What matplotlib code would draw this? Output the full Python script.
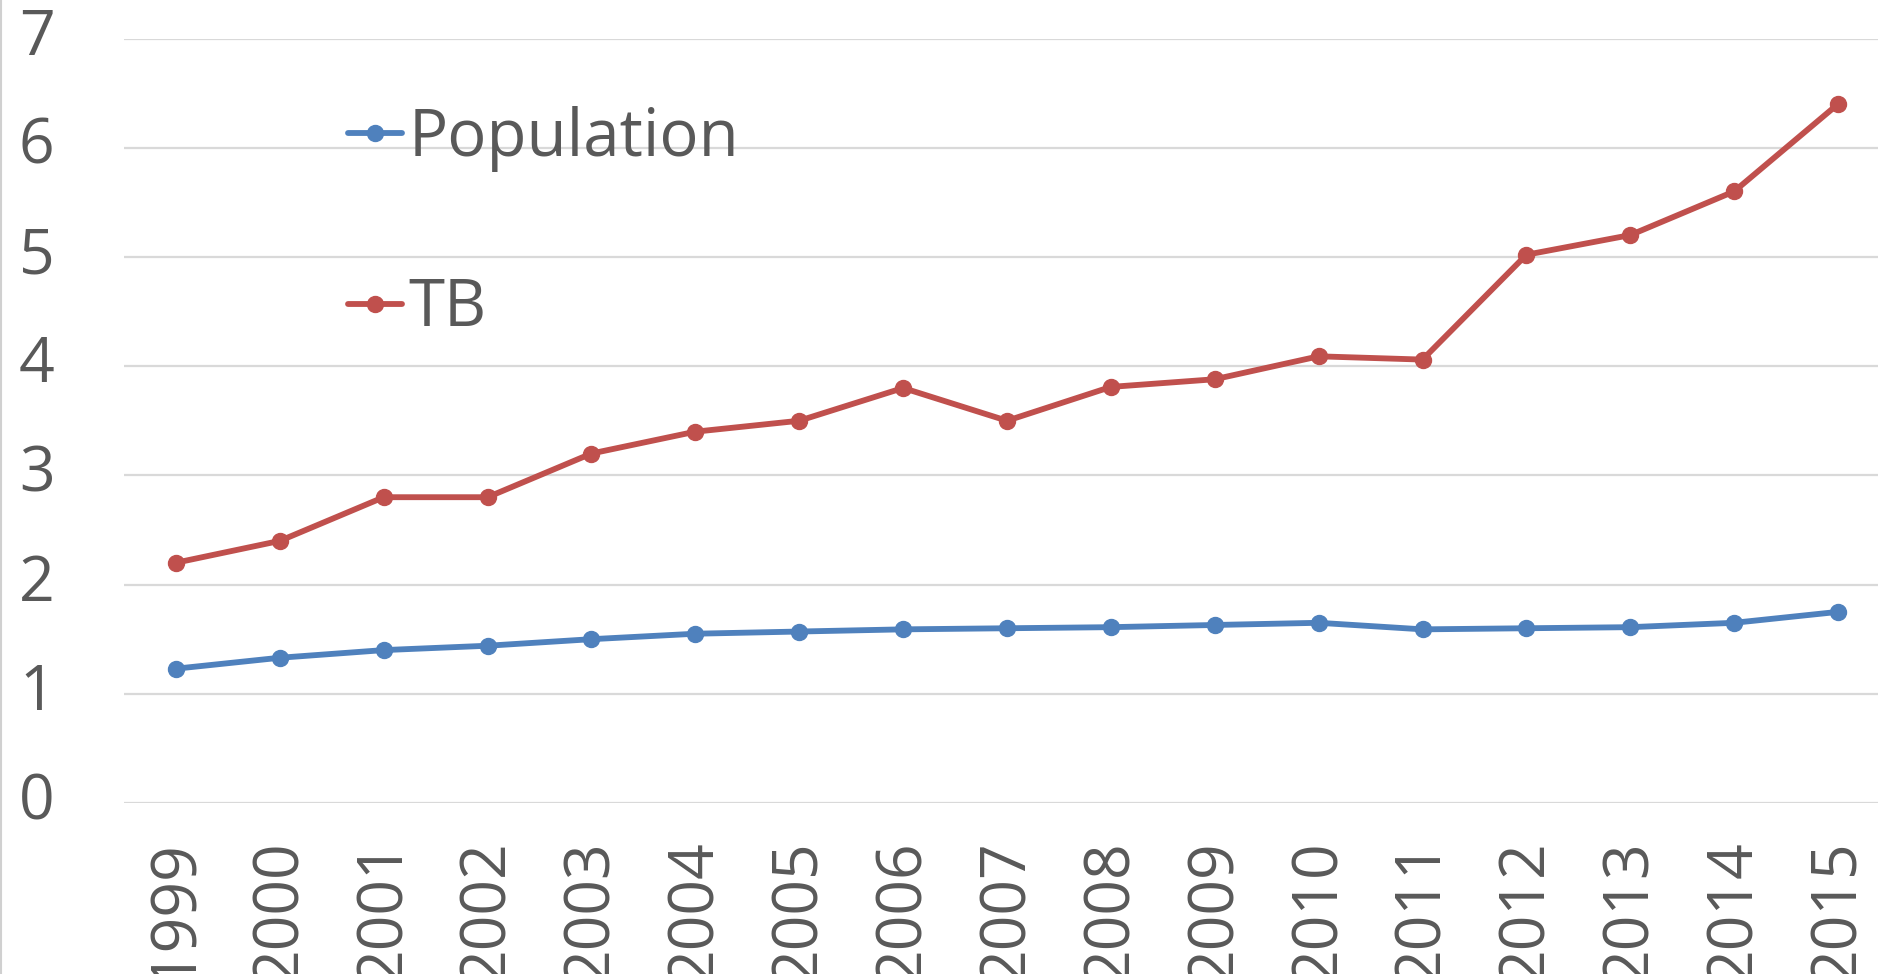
import numpy as np
import matplotlib
matplotlib.use("Agg")
import matplotlib.pyplot as plt
from matplotlib.lines import Line2D

years = ["1999", "2000", "2001", "2002", "2003", "2004", "2005", "2006", "2007",
         "2008", "2009", "2010", "2011", "2012", "2013", "2014", "2015"]
population = [1.23, 1.33, 1.40, 1.44, 1.50, 1.55, 1.57, 1.59, 1.60,
              1.61, 1.63, 1.65, 1.59, 1.60, 1.61, 1.65, 1.75]
tb = [2.20, 2.40, 2.80, 2.80, 3.20, 3.40, 3.50, 3.80, 3.50,
      3.81, 3.88, 4.09, 4.06, 5.02, 5.20, 5.60, 6.40]

BLUE = "#4f81bd"
RED = "#c0504d"
GREY = "#595959"

plt.rcParams['font.family'] = ['Open Sans', 'DejaVu Sans']


def main():
    W, H = 1878, 974
    fig = plt.figure(figsize=(W / 100, H / 100), dpi=100)
    # plot area in pixels: x 124..1890 (runs past the edge), y 38..803
    ax = fig.add_axes([124 / W, (H - 803) / H, (1890 - 124) / W, (803 - 38.5) / H])

    x = np.arange(len(years))
    ax.plot(x, population, color=BLUE, lw=4.2, marker='o', ms=11.5, label='Population',
            solid_capstyle='round', zorder=3)
    ax.plot(x, tb, color=RED, lw=4.2, marker='o', ms=11.5, label='TB',
            solid_capstyle='round', zorder=3)

    ax.set_xlim(-0.5, len(years) - 0.5)
    ax.set_ylim(0, 7)
    ax.set_yticks(range(0, 8))
    ax.set_xticks(x)
    ax.set_xticklabels(years, rotation=90)
    ax.tick_params(axis='both', length=0, labelsize=45, colors=GREY)
    ax.tick_params(axis='y', pad=50)
    ax.tick_params(axis='x', pad=26)
    for lab in ax.get_yticklabels():
        lab.set_verticalalignment('center')

    ax.grid(axis='y', color='#d9d9d9', lw=1.6)
    ax.set_axisbelow(True)
    for s in ax.spines.values():
        s.set_visible(False)

    leg = ax.legend(loc='upper left', bbox_to_anchor=(348 / W, 1 - 106 / H),
                    bbox_transform=fig.transFigure, frameon=False, fontsize=47,
                    handlelength=0.83, handletextpad=0.1, labelspacing=1.6,
                    borderpad=0, borderaxespad=0)
    for t in leg.get_texts():
        t.set_color(GREY)

    # thin border line on the left edge of the image
    fig.add_artist(Line2D([0.5 / W, 0.5 / W], [0, 1], transform=fig.transFigure,
                          color='#d0d0d0', lw=1.5))

    fig.savefig("out.png", dpi=100)


if __name__ == "__main__":
    main()
